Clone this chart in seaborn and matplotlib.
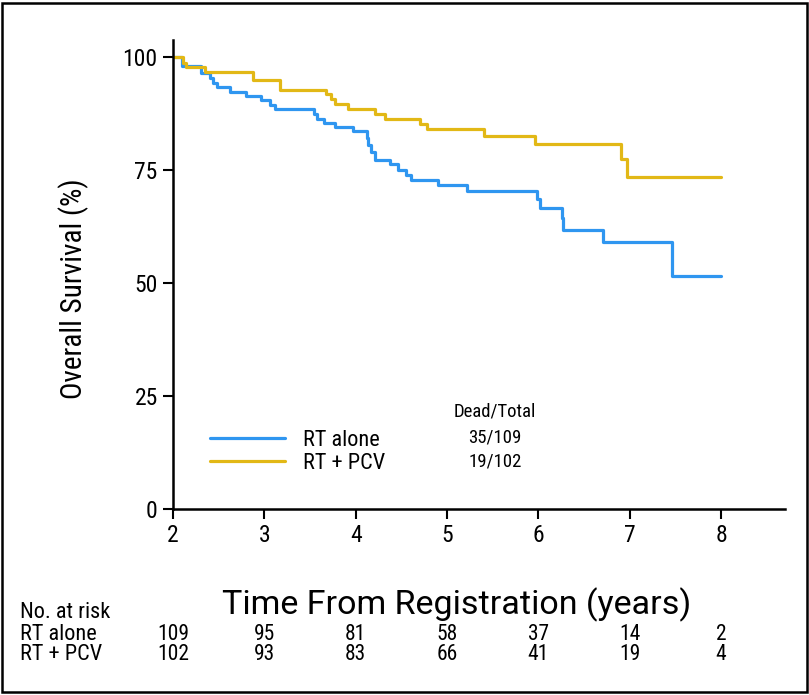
import matplotlib
matplotlib.use("Agg")
import matplotlib.pyplot as plt
import matplotlib.patches as mpatches
import seaborn as sns
import pandas as pd

# ---------------- data ----------------
groups = ["RT alone", "RT + PCV"]
dead_total = ["35/109", "19/102"]

rt_time = [2.00, 2.10, 2.31, 2.40, 2.44, 2.48, 2.62, 2.80, 2.96, 3.06, 3.12, 3.54, 3.58,
           3.65, 3.77, 3.97, 4.12, 4.14, 4.17, 4.21, 4.38, 4.46, 4.55, 4.61, 4.90, 5.22,
           5.98, 6.02, 6.26, 6.27, 6.71, 7.46, 8.00]
rt_surv = [100.0, 98.0, 96.4, 95.3, 94.2, 93.3, 92.3, 91.4, 90.5, 89.5, 88.5, 87.5, 86.4,
           85.5, 84.6, 83.6, 82.0, 80.5, 79.1, 77.3, 76.3, 75.1, 74.0, 72.9, 71.8, 70.4,
           68.7, 66.7, 64.3, 61.7, 59.0, 51.6, 51.6]

pcv_time = [2.00, 2.11, 2.14, 2.35, 2.88, 3.17, 3.68, 3.73, 3.77, 3.92, 4.21, 4.32, 4.70,
            4.78, 5.40, 5.96, 6.91, 6.97, 8.00]
pcv_surv = [100.0, 98.7, 97.9, 96.8, 94.9, 92.8, 91.9, 90.8, 89.7, 88.6, 87.5, 86.4, 85.3,
            84.0, 82.5, 80.8, 77.4, 73.4, 73.4]

risk_times = [2, 3, 4, 5, 6, 7, 8]
risk_rt = [109, 95, 81, 58, 37, 14, 2]
risk_pcv = [102, 93, 83, 66, 41, 19, 4]

x_ticks = [2, 3, 4, 5, 6, 7, 8]
y_ticks = [0, 25, 50, 75, 100]

# ---------------- style ----------------
sns.set_theme(style="white")
plt.rcParams["font.family"] = ["Roboto Condensed", "Roboto", "DejaVu Sans"]
plt.rcParams["text.color"] = "black"
plt.rcParams["axes.labelcolor"] = "black"
plt.rcParams["xtick.color"] = "black"
plt.rcParams["ytick.color"] = "black"

BLUE = "#2F96F0"
GOLD = "#E2B816"
FS_LEG = 16
FS_DT = 13.5
FS_RISK = 16
FS_NUM = 15.5

W, H = 809, 695
fig = plt.figure(figsize=(W / 100, H / 100), dpi=100)
ax = fig.add_axes([173 / W, 1 - 509 / H, (785 - 173) / W, (509 - 40) / H])

df_rt = pd.DataFrame({"time": rt_time, "surv": rt_surv})
df_pcv = pd.DataFrame({"time": pcv_time, "surv": pcv_surv})

sns.lineplot(data=df_rt, x="time", y="surv", ax=ax, color=BLUE, lw=2.3,
             drawstyle="steps-post", estimator=None, label=groups[0])
sns.lineplot(data=df_pcv, x="time", y="surv", ax=ax, color=GOLD, lw=2.3,
             drawstyle="steps-post", estimator=None, label=groups[1])

ax.set_xlim(2, 8.70)
ax.set_ylim(0, 103.8)
ax.set_xticks(x_ticks)
ax.set_yticks(y_ticks)
ax.set_xticklabels([str(t) for t in x_ticks], fontsize=17)
ax.set_yticklabels([str(t) for t in y_ticks], fontsize=17)
ax.tick_params(direction="out", length=7, width=1.5, color="black", pad=4,
               left=True, bottom=True, labelcolor="black")

for s in ["top", "right"]:
    ax.spines[s].set_visible(False)
for s in ["left", "bottom"]:
    ax.spines[s].set_color("black")
    ax.spines[s].set_linewidth(1.8)

ax.set_xlabel("Time From Registration (years)", fontsize=24.5, color="black",
              family=["Roboto", "DejaVu Sans"])
ax.xaxis.set_label_coords(0.464, -0.168)
ax.set_ylabel("Overall Survival (%)", fontsize=21, color="black")
ax.yaxis.set_label_coords(-0.138, 0.47)

leg = ax.legend(loc="upper left", bbox_to_anchor=(0.027, 0.212), frameon=False,
                fontsize=FS_LEG, handlelength=3.4, handletextpad=0.8, labelspacing=0.12)
for t in leg.get_texts():
    t.set_color("black")

# Dead/Total column
ax.text(495, H - 412, "Dead/Total", transform=None, fontsize=FS_DT, ha="center", va="center")
ax.text(495, H - 437, dead_total[0], transform=None, fontsize=FS_DT, ha="center", va="center")
ax.text(495, H - 462, dead_total[1], transform=None, fontsize=FS_DT, ha="center", va="center")

# risk table
tr = ax.get_xaxis_transform()
fig.text(20 / W, 1 - 612 / H, "No. at risk", fontsize=FS_RISK, ha="left", va="center")
fig.text(20 / W, 1 - 634 / H, groups[0], fontsize=FS_RISK, ha="left", va="center")
fig.text(20 / W, 1 - 655 / H, groups[1], fontsize=FS_RISK, ha="left", va="center")
y_rt = -(634 - 509) / (509 - 40)
y_pcv = -(655 - 509) / (509 - 40)
for t, a, b in zip(risk_times, risk_rt, risk_pcv):
    ax.text(t, y_rt, str(a), transform=tr, fontsize=FS_NUM, ha="center", va="center", clip_on=False)
    ax.text(t, y_pcv, str(b), transform=tr, fontsize=FS_NUM, ha="center", va="center", clip_on=False)

# figure border
fig.patches.append(mpatches.Rectangle((1.5 / W, 3.5 / H), (W - 4) / W, (H - 6) / H,
                                      transform=fig.transFigure, fill=False,
                                      edgecolor="black", linewidth=1.8))

fig.savefig("out.png", dpi=100)
